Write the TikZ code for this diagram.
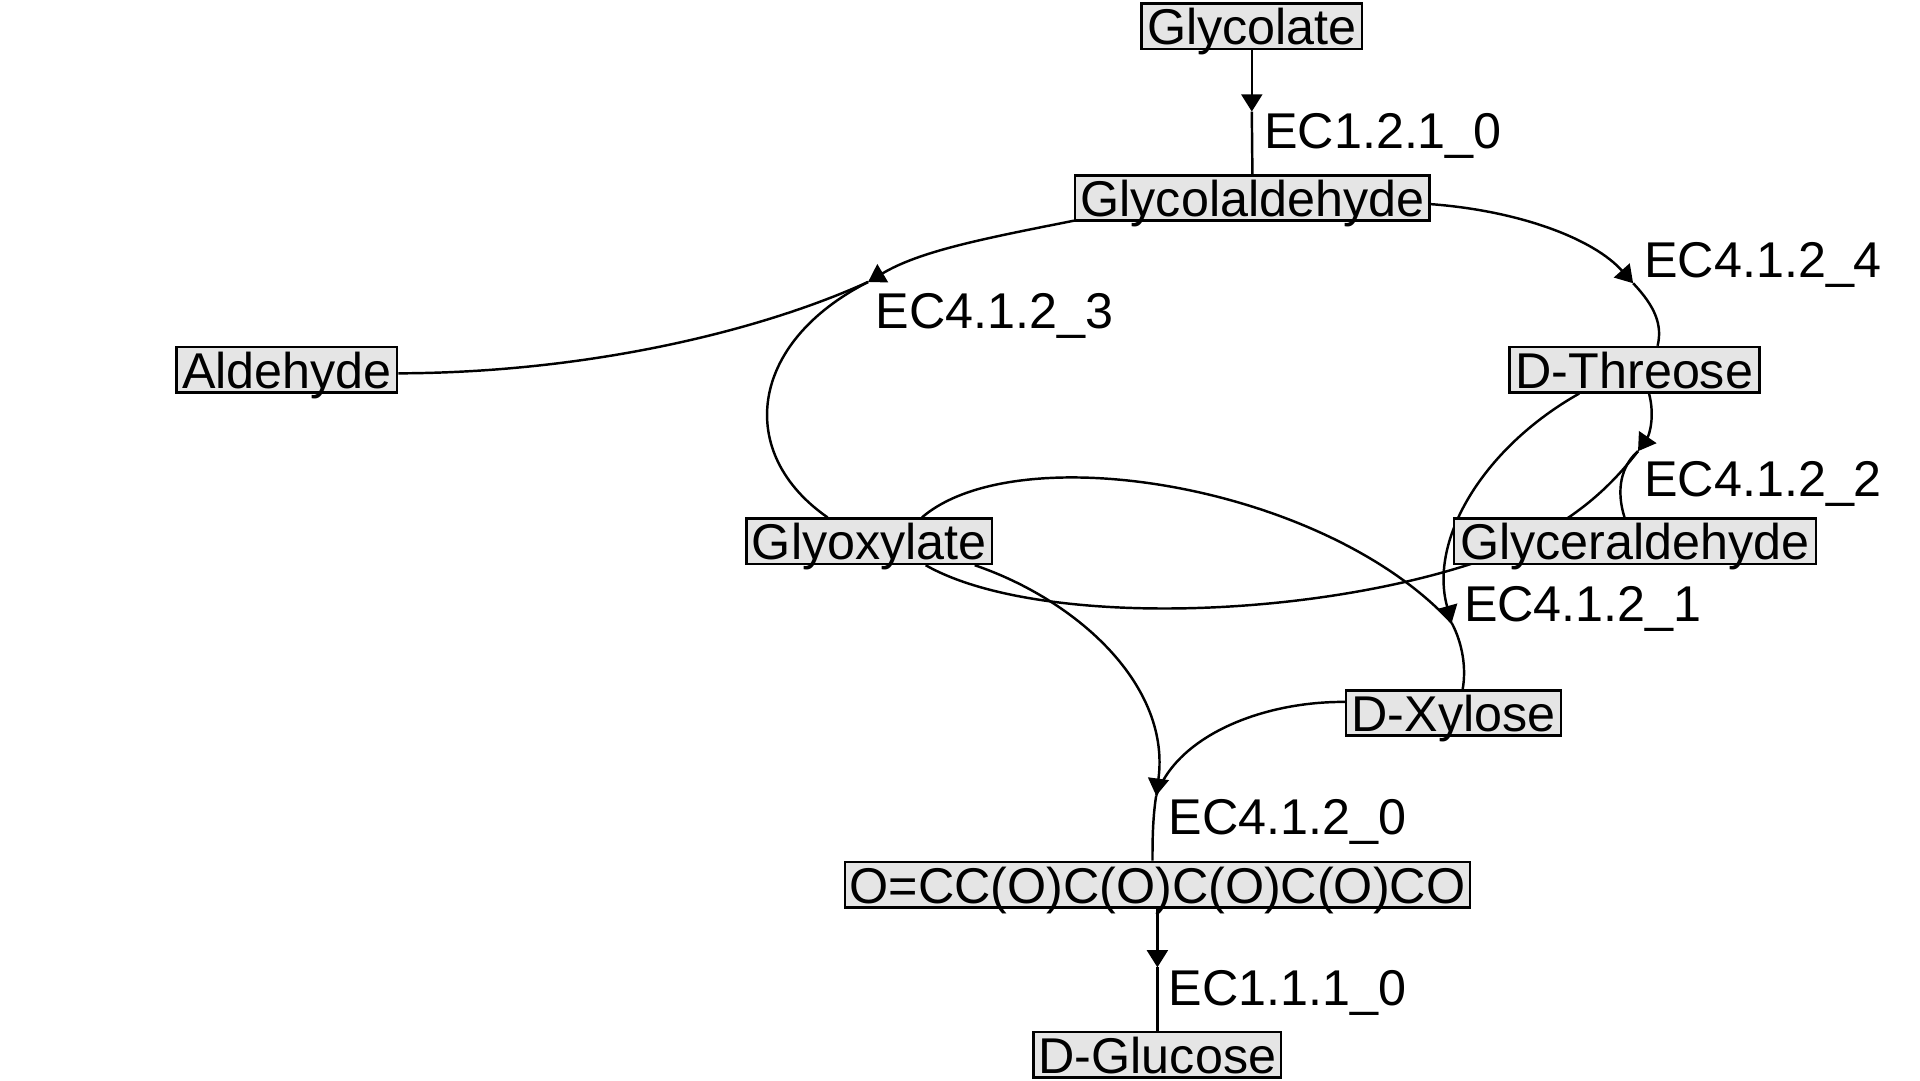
\documentclass[tikz,border=0pt]{standalone}
\usepackage{fontspec}
\setmainfont{Liberation Sans}
\usetikzlibrary{arrows.meta,calc}
\pgfdeclarelayer{background}
\pgfsetlayers{background,main}
\begin{document}
\begin{tikzpicture}[x=1pt,y=-1pt,
  mol/.style={draw=black,line width=2pt,fill=gray!20,font=\fontsize{41}{48}\selectfont,
    inner xsep=3pt,inner ysep=0pt,text height=33.6pt,text depth=3.4pt},
  lab/.style={anchor=base west,inner sep=0pt,font=\fontsize{41}{48}\selectfont},
  edge/.style={line width=2pt,black},
  arr/.style={edge,-{Triangle[length=14pt,width=17pt]}}]
\useasboundingbox (0,0) rectangle (1566,881);
% molecules
\node[mol,minimum width=180pt] (glycolate) at (1021,21.5) {Glycolate};
\node[mol,minimum width=289pt] (gald) at (1021.5,161.5) {Glycolaldehyde};
\node[mol,minimum width=180pt] (ald) at (234,301.5) {Aldehyde};
\node[mol,minimum width=204pt] (thr) at (1333,301.5) {D-Threose};
\node[mol,minimum width=200pt] (glyox) at (709,441.5) {Glyoxylate};
\node[mol,minimum width=295pt] (glyc) at (1333.5,441.5) {Glyceraldehyde};
\node[mol,minimum width=175pt] (xyl) at (1185.5,581.5) {D-Xylose};
\node[mol,minimum width=510pt] (hex) at (944,721.5) {O=CC(O)C(O)C(O)C(O)CO};
\node[mol,minimum width=202pt] (glc) at (944,860.2) {D-Glucose};
% reaction points
\coordinate (r1) at (1021,91);
\coordinate (r4) at (1332,231);
\coordinate (r3) at (708,230);
\coordinate (r2) at (1336,368);
\coordinate (rA) at (1184,508);
\coordinate (r0) at (943,649);
\coordinate (r5) at (944,789);
% labels
\node[lab] (l1) at (1031,121) {EC1.2.1\_0};
\node[lab] (l4) at (1341,226) {EC4.1.2\_4};
\node[lab] (l3) at (714,268) {EC4.1.2\_3};
\node[lab] (l2) at (1341,405) {EC4.1.2\_2};
\node[lab] (lA) at (1194,507) {EC4.1.2\_1};
\node[lab] (l0) at (953,681) {EC4.1.2\_0};
\node[lab] (l5) at (953,820) {EC1.1.1\_0};
\begin{pgfonlayer}{background}
% EC1.2.1_0
\draw[arr] (glycolate.south) -- (r1);
\draw[edge] (r1) -- (gald.north);
% EC4.1.2_4
\draw[arr] ($(gald.east)+(0,5)$) .. controls (1240,172) and (1300,195) .. (r4);
\draw[edge] (r4) .. controls (1350,250) and (1356,265) .. ($(thr.north)+(19,0)$);
% EC4.1.2_3
\draw[arr] ($(gald.south west)+(0,-1)$) .. controls (800,195) and (750,205) .. (r3);
\draw[edge] ($(ald.east)+(0,3)$) .. controls (480,304) and (620,270) .. (r3);
\draw[edge] (r3) .. controls (610,280) and (600,370) .. ($(glyox.north)+(-34,0)$);
% EC4.1.2_2
\draw[arr] ($(thr.south)+(12,0)$) .. controls (1350,340) and (1345,355) .. (r2);
\draw[edge] ($(glyox.south)+(46,0)$) .. controls (850,515) and (1100,505) .. (1240,445)
   .. controls (1290,420) and (1315,395) .. (r2);
\draw[edge] ($(glyc.north)+(-8.5,0)$) .. controls (1318,400) and (1322,380) .. (r2);
% EC4.1.2_1
\draw[arr] ($(thr.south)+(-45,0)$) .. controls (1210,365) and (1165,440) .. (rA);
\draw[edge] ($(glyox.north)+(43,0)$) .. controls (830,355) and (1080,395) .. (rA);
\draw[edge] (rA) .. controls (1193,525) and (1196,545) .. ($(xyl.north)+(7.5,0)$);
% EC4.1.2_0
\draw[arr] ($(glyox.south)+(86,0)$) .. controls (880,490) and (955,560) .. (r0);
\draw[edge] ($(xyl.west)+(0,-9)$) .. controls (1030,572) and (960,600) .. (r0);
\draw[edge] (r0) .. controls (940,668) and (940,688) .. ($(hex.north)+(-4,0)$);
% EC1.1.1_0
\draw[arr] (hex.south) -- (r5);
\draw[edge] (r5) -- (glc.north);
\end{pgfonlayer}
\end{tikzpicture}
\end{document}
